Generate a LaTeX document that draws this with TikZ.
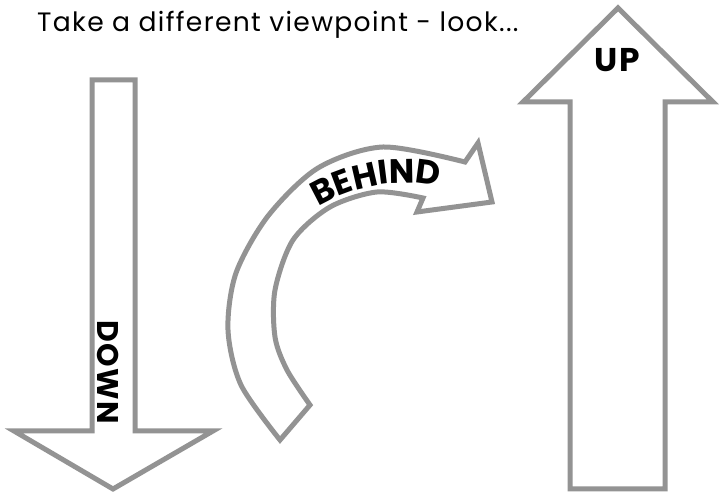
\documentclass[tikz,border=0pt]{standalone}
\usepackage{fontspec}
\setmainfont{Poppins}
\newfontfamily\spaced[LetterSpace=5]{Poppins}
\usetikzlibrary{decorations.text}
\definecolor{outline}{HTML}{939393}
\tikzset{
  arrowbody/.style={draw=outline,line width=5bp,line join=miter,fill=white},
  bigword/.style={font=\spaced\bfseries\fontsize{#1}{#1}\selectfont,inner sep=0pt}
}

\begin{document}
\begin{tikzpicture}[x=1bp,y=1bp]
  \useasboundingbox (0,0) rectangle (719,495);
  % down arrow
  \draw[arrowbody] (92,415)--(135,415)--(135,64)--(213,64)--(113,6)--(14,64)--(92,64)--cycle;
  % up arrow
  \draw[arrowbody] (570,6)--(665,6)--(665,393)--(713,393)--(618,487)--(523,393)--(570,393)--cycle;
  % curved arrow
  \draw[arrowbody] (280,55)--plot[smooth] coordinates {(310,90) (287,125) (275,158) (275,205) (293,255) (330,288) (377,303) (423,297)}
    --(417,283)--(492,293)--(478,352)
    --plot[smooth] coordinates {(465,333) (383,348) (318,327) (268,279) (236,222) (228,165) (241,110) (280,55)}--cycle;
  % labels
  \node[anchor=base west,inner sep=0pt,font=\spaced\fontsize{26.7}{30}\selectfont] (title) at (37,463) {Take a different viewpoint - look...};
  \node[bigword=33] (up) at (617,435) {UP};
  \node[bigword=30,rotate=-90] (down) at (108.5,122.5) {DOWN};
  \path[decorate,decoration={text along path,text align=center,
    text={|\bfseries\fontsize{34}{34}\selectfont|BEHIND}}]
    (405,145) ++(136:167) arc[start angle=136,end angle=63.5,radius=167];
\end{tikzpicture}
\end{document}
